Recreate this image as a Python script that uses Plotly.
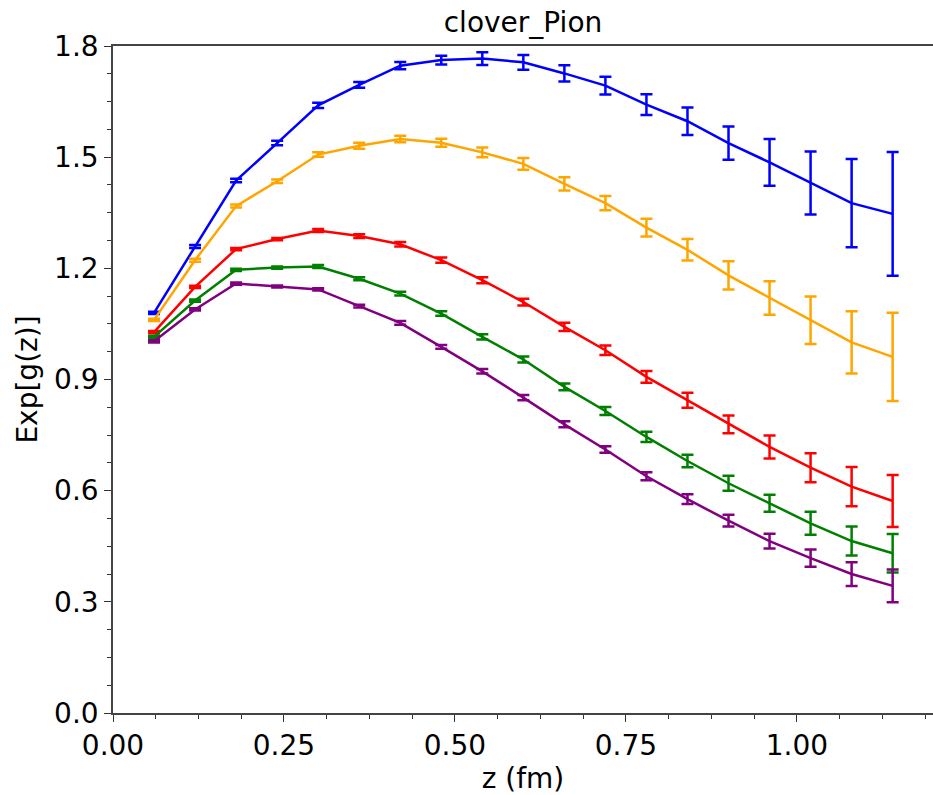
import plotly.graph_objects as go

z = [0.06, 0.12, 0.18, 0.24, 0.30, 0.36, 0.42, 0.48, 0.54, 0.60,
     0.66, 0.72, 0.78, 0.84, 0.90, 0.96, 1.02, 1.08, 1.14]

blue = [1.080, 1.259, 1.437, 1.538, 1.640, 1.695, 1.747, 1.762, 1.766, 1.756,
        1.726, 1.693, 1.642, 1.597, 1.538, 1.486, 1.430, 1.376, 1.347]
blue_err = [0.003, 0.004, 0.005, 0.006, 0.007, 0.008, 0.010, 0.012, 0.017, 0.020,
            0.022, 0.024, 0.028, 0.037, 0.045, 0.063, 0.085, 0.119, 0.167]

orange = [1.061, 1.222, 1.368, 1.435, 1.507, 1.531, 1.549, 1.539, 1.513, 1.482,
          1.428, 1.376, 1.310, 1.250, 1.181, 1.120, 1.060, 1.000, 0.961]
orange_err = [0.003, 0.004, 0.004, 0.005, 0.006, 0.008, 0.009, 0.011, 0.013, 0.016,
              0.018, 0.019, 0.024, 0.029, 0.038, 0.045, 0.064, 0.084, 0.119]

red = [1.028, 1.150, 1.252, 1.279, 1.302, 1.287, 1.265, 1.222, 1.168, 1.109,
       1.042, 0.979, 0.907, 0.844, 0.779, 0.718, 0.662, 0.611, 0.572]
red_err = [0.003, 0.003, 0.003, 0.003, 0.004, 0.005, 0.006, 0.007, 0.008, 0.009,
           0.011, 0.013, 0.016, 0.020, 0.024, 0.031, 0.039, 0.053, 0.070]

green = [1.015, 1.113, 1.196, 1.202, 1.205, 1.172, 1.132, 1.078, 1.015, 0.954,
         0.880, 0.815, 0.745, 0.680, 0.620, 0.566, 0.512, 0.464, 0.431]
green_err = [0.003, 0.003, 0.003, 0.003, 0.004, 0.004, 0.005, 0.006, 0.007, 0.008,
             0.009, 0.011, 0.014, 0.017, 0.020, 0.023, 0.031, 0.039, 0.052]

purple = [1.003, 1.089, 1.159, 1.151, 1.143, 1.098, 1.053, 0.988, 0.922, 0.851,
          0.779, 0.711, 0.639, 0.577, 0.519, 0.464, 0.418, 0.375, 0.343]
purple_err = [0.003, 0.003, 0.003, 0.003, 0.003, 0.004, 0.005, 0.005, 0.006, 0.007,
              0.008, 0.009, 0.011, 0.013, 0.016, 0.020, 0.023, 0.032, 0.044]

series = [
    ("blue", blue, blue_err, "#0000ff"),
    ("orange", orange, orange_err, "#ffa500"),
    ("red", red, red_err, "#ff0000"),
    ("green", green, green_err, "#008000"),
    ("purple", purple, purple_err, "#800080"),
]

FONT = "DejaVu Sans"

fig = go.Figure()
for name, vals, errs, col in series:
    fig.add_trace(go.Scatter(
        x=z, y=vals, mode="lines", name=name,
        line=dict(color=col, width=2.5),
        error_y=dict(type="data", array=errs, visible=True,
                     color=col, thickness=2.5, width=6),
        showlegend=False,
    ))

fig.update_layout(
    width=933, height=795,
    margin=dict(l=113, r=0, t=46, b=82),
    paper_bgcolor="white", plot_bgcolor="white",
    font=dict(family=FONT, color="black", size=28),
    title=dict(text="clover_Pion", x=0.5, xref="paper", xanchor="center",
               y=1 - 22 / 795, yref="container", yanchor="middle",
               font=dict(family=FONT, size=28, color="black")),
)

fig.update_xaxes(
    range=[0, 1.199], tickmode="linear", tick0=0, dtick=0.25,
    tickformat=".2f", ticks="outside", ticklen=7, tickwidth=1.3, tickcolor="#333",
    showline=True, linecolor="#444", linewidth=1.5, mirror=True,
    showgrid=False, zeroline=False,
    tickfont=dict(family=FONT, size=28, color="black"),
    minor=dict(ticks="outside", ticklen=4, tickwidth=1, tickcolor="#333",
               tick0=0, dtick=0.0625, showgrid=False),
    title=dict(text="z (fm)", font=dict(family=FONT, size=28, color="black"), standoff=4),
)
fig.update_yaxes(
    range=[0, 1.8], tickmode="linear", tick0=0, dtick=0.3,
    tickformat=".1f", ticks="outside", ticklen=7, tickwidth=1.3, tickcolor="#333",
    showline=True, linecolor="#444", linewidth=1.5, mirror=False,
    showgrid=False, zeroline=False,
    tickfont=dict(family=FONT, size=28, color="black"),
    minor=dict(ticks="outside", ticklen=4, tickwidth=1, tickcolor="#333",
               tick0=0, dtick=0.075, showgrid=False),
    title=dict(text="Exp[g(z)]", font=dict(family=FONT, size=28, color="black"), standoff=8),
)

fig.write_html("out.html")
